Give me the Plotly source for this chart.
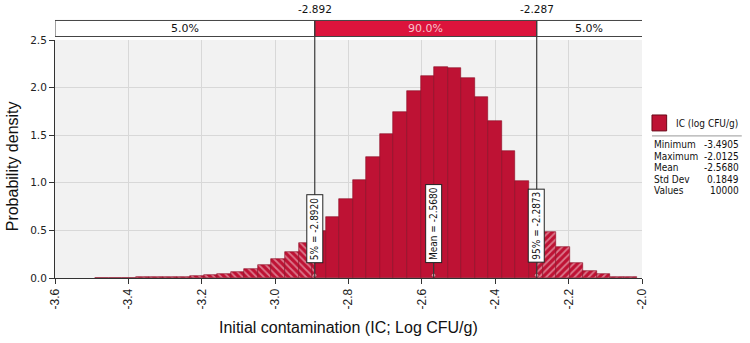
import plotly.graph_objects as go

# ---------------- data ----------------
x_min, x_max = -3.4905, -2.0125
n_bins = 40
density = [0.003, 0.003, 0.005, 0.006, 0.010, 0.014, 0.015, 0.021, 0.028, 0.042,
           0.067, 0.095, 0.137, 0.196, 0.270, 0.364, 0.490, 0.640, 0.830, 1.030,
           1.270, 1.513, 1.747, 1.965, 2.122, 2.213, 2.203, 2.098, 1.905, 1.652,
           1.337, 1.019, 0.700, 0.486, 0.329, 0.154, 0.077, 0.039, 0.014, 0.007]
p5, p95 = -2.892, -2.287
mean_val = -2.5680
p5_label = "5% = -2.8920"
p95_label = "95% = -2.2873"
mean_label = "Mean = -2.5680"
band_labels = ["5.0%", "90.0%", "5.0%"]
stats_labels = ["Minimum", "Maximum", "Mean", "Std Dev", "Values"]
stats_values = ["-3.4905", "-2.0125", "-2.5680", "0.1849", "10000"]
series_name = "IC (log CFU/g)"
x_ticks = [-3.6, -3.4, -3.2, -3.0, -2.8, -2.6, -2.4, -2.2, -2.0]
x_ticktext = ["-3.6", "-3.4", "-3.2", "-3.0", "-2.8", "-2.6", "-2.4", "-2.2", "-2.0"]
y_ticks = [0.0, 0.5, 1.0, 1.5, 2.0, 2.5]
x_title = "Initial contamination (IC; Log CFU/g)"
y_title = "Probability density"

RED = "#BE1234"
RED_DARK = "#8A0A22"
BAND_RED = "#DC143C"
X_RANGE = [-3.6, -2.0]
Y_RANGE = [0, 2.5]

# ------------- split bins into solid / hatched pieces -------------
w = (x_max - x_min) / n_bins
solid_x, solid_w, solid_y = [], [], []
hat_x, hat_w, hat_y, hat_shape = [], [], [], []


def add(lst_x, lst_w, lst_y, lo, hi, v):
    lst_x.append((lo + hi) / 2)
    lst_w.append(hi - lo)
    lst_y.append(v)


for k, v in enumerate(density):
    lo = x_min + k * w
    hi = lo + w
    if hi <= p5:
        add(hat_x, hat_w, hat_y, lo, hi, v); hat_shape.append("\\")
    elif lo < p5 < hi:
        add(hat_x, hat_w, hat_y, lo, p5, v); hat_shape.append("\\")
        add(solid_x, solid_w, solid_y, p5, hi, v)
    elif lo >= p95:
        add(hat_x, hat_w, hat_y, lo, hi, v); hat_shape.append("/")
    elif lo < p95 < hi:
        add(solid_x, solid_w, solid_y, lo, p95, v)
        add(hat_x, hat_w, hat_y, p95, hi, v); hat_shape.append("/")
    else:
        add(solid_x, solid_w, solid_y, lo, hi, v)

fig = go.Figure()
fig.add_trace(go.Bar(
    x=solid_x, y=solid_y, width=solid_w,
    marker=dict(color=RED, line=dict(color=RED_DARK, width=0.6)),
    showlegend=False, hoverinfo="skip"))
fig.add_trace(go.Bar(
    x=hat_x, y=hat_y, width=hat_w,
    marker=dict(color=RED, line=dict(color=RED_DARK, width=0.6),
                pattern=dict(shape=hat_shape, fgcolor="#F6DDE2", bgcolor=RED,
                             fillmode="overlay", size=5, solidity=0.35)),
    showlegend=False, hoverinfo="skip"))

# small dots at the base of the marker labels
fig.add_trace(go.Scatter(
    x=[p5, mean_val, p95], y=[0.03, 0.03, 0.03], mode="markers",
    marker=dict(size=4, color="#F29AA8", line=dict(color="#7a0a1e", width=0.5)),
    showlegend=False, hoverinfo="skip", cliponaxis=False))

# triangles on top of delimiter lines
fig.add_trace(go.Scatter(
    x=[p5, p95], y=[2.70, 2.70], mode="markers",
    marker=dict(symbol="triangle-down", size=9, color="#333333"),
    showlegend=False, hoverinfo="skip", cliponaxis=False))

shapes = []
BAND_Y0, BAND_Y1 = 1.0147, 1.082
# top band
segs = [(X_RANGE[0], p5, "white"), (p5, p95, BAND_RED), (p95, X_RANGE[1] + 0.008, "white")]
for a, b, c in segs:
    shapes.append(dict(type="rect", xref="x", yref="paper", x0=a, x1=b, y0=BAND_Y0, y1=BAND_Y1,
                       fillcolor=c, line=dict(color="#444444", width=1), layer="above"))
# delimiter lines
for xv in (p5, p95):
    shapes.append(dict(type="line", xref="x", yref="paper", x0=xv, x1=xv, y0=0, y1=BAND_Y1,
                       line=dict(color="#3a3a3a", width=1.2), layer="above"))
shapes.append(dict(type="line", xref="x", yref="y", x0=mean_val, x1=mean_val, y0=0, y1=0.3,
                   line=dict(color="#3a3a3a", width=1.2), layer="above"))

annotations = []
mids = [(X_RANGE[0] + p5) / 2, (p5 + p95) / 2, (p95 + X_RANGE[1]) / 2]
for m, t, col in zip(mids, band_labels, ["#111111", "#F6C3CC", "#111111"]):
    annotations.append(dict(x=m, y=(BAND_Y0 + BAND_Y1) / 2, xref="x", yref="paper", text=t,
                            showarrow=False, font=dict(family="DejaVu Sans", size=11, color=col),
                            yanchor="middle"))
for xv in (p5, p95):
    annotations.append(dict(x=xv, y=1.13, xref="x", yref="paper", text=f"{xv:.3f}",
                            showarrow=False, yanchor="middle",
                            font=dict(family="DejaVu Sans", size=10.5, color="#111111")))
# rotated marker labels
for xv, t in ((p5, p5_label), (mean_val, mean_label), (p95, p95_label)):
    annotations.append(dict(x=xv, y=0.158, xref="x", yref="y", text=t, textangle=-90,
                            showarrow=False, yanchor="bottom", xanchor="center",
                            bgcolor="white", bordercolor="#222222", borderwidth=1, borderpad=2,
                            font=dict(family="DejaVu Sans Condensed, DejaVu Sans", size=10, color="#111111")))

# axis titles
annotations.append(dict(x=0.5, y=-0.206, xref="paper", yref="paper", text=x_title, showarrow=False,
                        yanchor="middle", font=dict(family="Liberation Sans, Arial", size=16, color="#111111")))
annotations.append(dict(x=-0.073, y=0.47, xref="paper", yref="paper", text=y_title, showarrow=False,
                        textangle=-90, xanchor="center", yanchor="middle",
                        font=dict(family="Liberation Sans, Arial", size=16, color="#111111")))

# legend / stats box
shapes.append(dict(type="rect", xref="paper", yref="paper", x0=1.017, x1=1.042, y0=0.618, y1=0.685,
                   fillcolor=RED, line=dict(color="#6a0818", width=1)))
shapes.append(dict(type="line", xref="paper", yref="paper", x0=1.017, x1=1.17, y0=0.597, y1=0.597,
                   line=dict(color="#999999", width=1)))
stat_font = dict(family="DejaVu Sans Condensed, DejaVu Sans", size=10, color="#111111")
annotations.append(dict(x=1.055, y=0.651, xref="paper", yref="paper", text=series_name, showarrow=False,
                        xanchor="left", yanchor="middle", font=stat_font))
row_y = [0.559, 0.510, 0.463, 0.414, 0.367]
for ry, lab, val in zip(row_y, stats_labels, stats_values):
    annotations.append(dict(x=1.017, y=ry, xref="paper", yref="paper", text=lab, showarrow=False,
                            xanchor="left", yanchor="middle", font=stat_font))
    annotations.append(dict(x=1.168, y=ry, xref="paper", yref="paper", text=val, showarrow=False,
                            xanchor="right", yanchor="middle", font=stat_font))

fig.update_layout(
    width=750, height=343,
    margin=dict(l=55, r=108, t=40, b=65),
    paper_bgcolor="white", plot_bgcolor="#F2F2F2",
    barmode="overlay", bargap=0,
    shapes=shapes, annotations=annotations,
    showlegend=False,
    xaxis=dict(range=X_RANGE, tickvals=x_ticks, ticktext=x_ticktext, tickangle=-90,
               showgrid=True, gridcolor="#D8D8D8", gridwidth=1, zeroline=False,
               ticks="outside", ticklen=5, tickcolor="#333333",
               showline=True, linecolor="#333333", linewidth=1,
               tickfont=dict(family="Liberation Sans, Arial", size=12, color="#222222")),
    yaxis=dict(range=Y_RANGE, tickvals=y_ticks, tickformat=".1f",
               showgrid=True, gridcolor="#D8D8D8", gridwidth=1, zeroline=False,
               ticks="outside", ticklen=5, tickcolor="#333333",
               showline=True, linecolor="#333333", linewidth=1,
               tickfont=dict(family="DejaVu Sans", size=10.5, color="#222222")),
)

# remove the browser's default 8px body margin so the figure fills the window exactly
fig.write_html("out.html", config={"displayModeBar": False},
               post_script="document.body.style.margin='0';")
